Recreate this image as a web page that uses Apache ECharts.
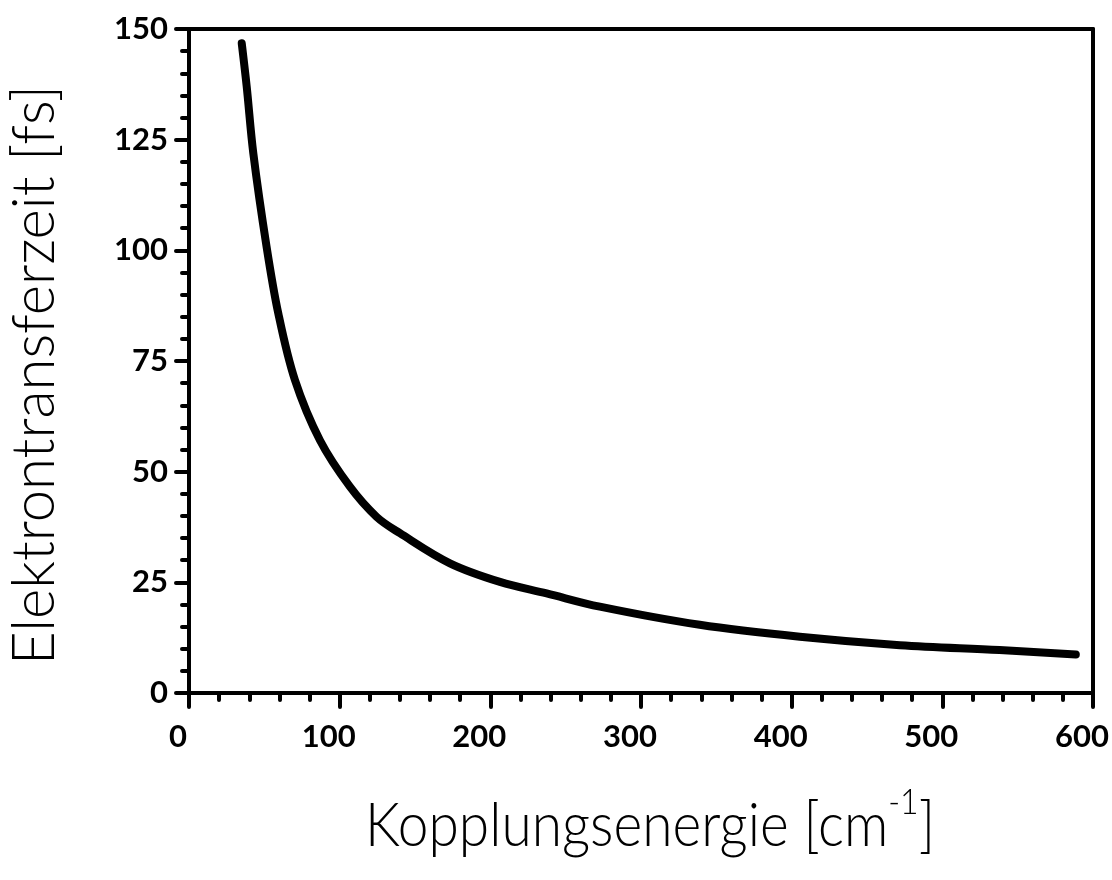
<!DOCTYPE html>
<html>
<head>
<meta charset="utf-8">
<script src="https://cdn.jsdelivr.net/npm/echarts@6/dist/echarts.min.js"></script>
<style>
  html, body { margin: 0; padding: 0; background: #fff; }
  #chart { width: 1112px; height: 880px; }
</style>
</head>
<body>
<div id="chart"></div>
<script>
// Werte
const energie = [35, 38.3, 42.7, 51.5, 59.3, 70.3, 86.9, 106.8, 124.5, 140, 173.2, 206.4, 237.4, 272.7, 339, 405.4, 471.8, 538, 588.6];
const zeit = [146.8, 137, 121.9, 100.8, 85.7, 70.7, 57.1, 46.6, 39.8, 36.1, 29.3, 25.1, 22.5, 19.5, 15.4, 12.7, 10.8, 9.7, 8.7];
const xTicks = [0, 100, 200, 300, 400, 500, 600];
const yTicks = [0, 25, 50, 75, 100, 125, 150];
const xTitle = ['Kopplungsenergie [cm', '-1', ']'];
const yTitle = 'Elektrontransferzeit [fs]';

const chart = echarts.init(document.getElementById('chart'));

const labelFont = { fontFamily: 'Lato', fontWeight: 'bold', fontSize: 31, color: '#000' };
const black = { color: '#000', width: 4, cap: 'round' };

// Titel: schmale, duenne Schrift -> Breite messen und stauchen
const ctx = document.createElement('canvas').getContext('2d');
function textWidth(t, font) { ctx.font = font; return ctx.measureText(t).width; }
const mainFont = '300 62px Lato';
const supFont = '300 36px Lato';
const yFont = '300 60px Lato';
const wMain = textWidth(xTitle[0], mainFont);
const wSup = textWidth(xTitle[1], supFont);
const wClose = textWidth(xTitle[2], mainFont);
const xScale = 570 / (wMain + wSup + wClose);
const yScale = 580 / textWidth(yTitle, yFont);

chart.setOption({
  animation: false,
  grid: { left: 189, right: 19, top: 29, bottom: 187, containLabel: false, outerBoundsMode: 'none' },
  xAxis: [
    {
      type: 'value',
      min: xTicks[0],
      max: xTicks[xTicks.length - 1],
      interval: 100,
      axisLine: { show: true, onZero: false, lineStyle: { color: '#000', width: 4 } },
      axisTick: { show: true, inside: false, length: 14, lineStyle: black },
      minorTick: { show: true, splitNumber: 5, length: 7, lineStyle: black },
      axisLabel: Object.assign({ margin: 28, padding: [0, 22, 0, 0] }, labelFont),
      splitLine: { show: false }
    },
    {
      type: 'value',
      position: 'top',
      min: 0, max: 600, interval: 100,
      axisLine: { show: true, onZero: false, lineStyle: { color: '#000', width: 4 } },
      axisTick: { show: false },
      axisLabel: { show: false },
      splitLine: { show: false }
    }
  ],
  yAxis: [
    {
      type: 'value',
      min: yTicks[0],
      max: yTicks[yTicks.length - 1],
      interval: 25,
      axisLine: { show: true, onZero: false, lineStyle: { color: '#000', width: 4 } },
      axisTick: { show: true, inside: false, length: 13, lineStyle: black },
      minorTick: { show: true, splitNumber: 5, length: 7, lineStyle: black },
      axisLabel: Object.assign({ margin: 21, padding: [0, 0, 4, 0] }, labelFont),
      splitLine: { show: false }
    },
    {
      type: 'value',
      position: 'right',
      min: 0, max: 150, interval: 25,
      axisLine: { show: true, onZero: false, lineStyle: { color: '#000', width: 4 } },
      axisTick: { show: false },
      axisLabel: { show: false },
      splitLine: { show: false }
    }
  ],
  graphic: [
    {
      type: 'group',
      x: 365, y: 826,
      scaleX: xScale,
      children: [
        { type: 'text', x: 0, y: 0, style: { text: xTitle[0], font: mainFont, fill: '#000', textAlign: 'left', textVerticalAlign: 'middle' } },
        { type: 'text', x: wMain, y: -24, style: { text: xTitle[1], font: supFont, fill: '#000', textAlign: 'left', textVerticalAlign: 'middle' } },
        { type: 'text', x: wMain + wSup, y: 0, style: { text: xTitle[2], font: mainFont, fill: '#000', textAlign: 'left', textVerticalAlign: 'middle' } }
      ]
    },
    {
      type: 'text',
      x: 35, y: 375,
      rotation: Math.PI / 2,
      scaleX: yScale,
      style: { text: yTitle, font: yFont, fill: '#000', textAlign: 'center', textVerticalAlign: 'middle' }
    }
  ],
  series: [
    {
      type: 'line',
      data: energie.map((e, i) => [e, zeit[i]]),
      smooth: 0.35,
      showSymbol: false,
      lineStyle: { color: '#000', width: 8, cap: 'round' }
    }
  ]
});
</script>
</body>
</html>
